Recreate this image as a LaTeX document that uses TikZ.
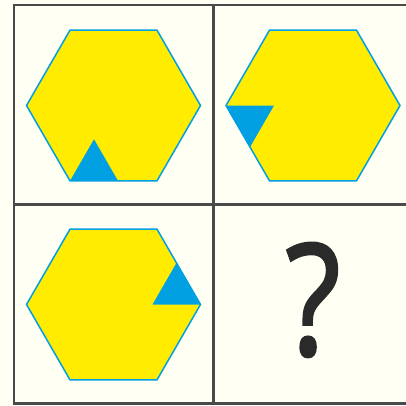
\documentclass[tikz,border=0pt]{standalone}
\usepackage{fontspec}
\setmainfont{Open Sans}
\newfontfamily\askfont[FakeBold=1.6, FakeStretch=0.82]{Open Sans}
\definecolor{cream}{HTML}{FFFFF3}
\definecolor{hexyellow}{HTML}{FFEC00}
\definecolor{hexblue}{HTML}{00A0E2}
\definecolor{gridgray}{HTML}{4A4A4A}
\definecolor{askgray}{HTML}{2A2A2A}
\begin{document}
\begin{tikzpicture}[x=1pt, y=-1pt,
    hexagon/.style={draw=hexblue, line width=1.5pt, fill=hexyellow, line join=miter},
    notch/.style={fill=hexblue},
    cell/.style={draw=gridgray, line width=2.4pt}]
    \fill[cream] (0,0) rectangle (406,405);
    \useasboundingbox (0,0) rectangle (406,405);
    % grid
    \draw[cell] (406,5) -- (13.7,5) -- (13.7,403.5) -- (406,403.5);
    \draw[cell] (213.5,5) -- (213.5,403.5);
    \draw[cell] (13.7,204.5) -- (406,204.5);
    % top left
    \coordinate (c1) at (113.5,105.5);
    \draw[hexagon] (c1) ++(0:87) -- ++(120:87) -- ++(180:87) -- ++(240:87) -- ++(300:87) -- ++(0:87) -- cycle;
    \fill[notch] (c1) ++(120:87) -- ++(0:48) -- ++(240:48) -- cycle;
    % top right
    \coordinate (c2) at (313,105.5);
    \draw[hexagon] (c2) ++(0:87) -- ++(120:87) -- ++(180:87) -- ++(240:87) -- ++(300:87) -- ++(0:87) -- cycle;
    \fill[notch] (c2) ++(180:87) -- ++(0:48) -- ++(120:48) -- cycle;
    % bottom left
    \coordinate (c3) at (113.5,304.5);
    \draw[hexagon] (c3) ++(0:87) -- ++(120:87) -- ++(180:87) -- ++(240:87) -- ++(300:87) -- ++(0:87) -- cycle;
    \fill[notch] (c3) ++(0:87) -- ++(180:48) -- ++(300:48) -- cycle;
    % bottom right
    \node[anchor=base, text=askgray, inner sep=0pt] (ask) at (313,355) {\fontsize{155}{155}\selectfont\askfont ?};
\end{tikzpicture}
\end{document}
